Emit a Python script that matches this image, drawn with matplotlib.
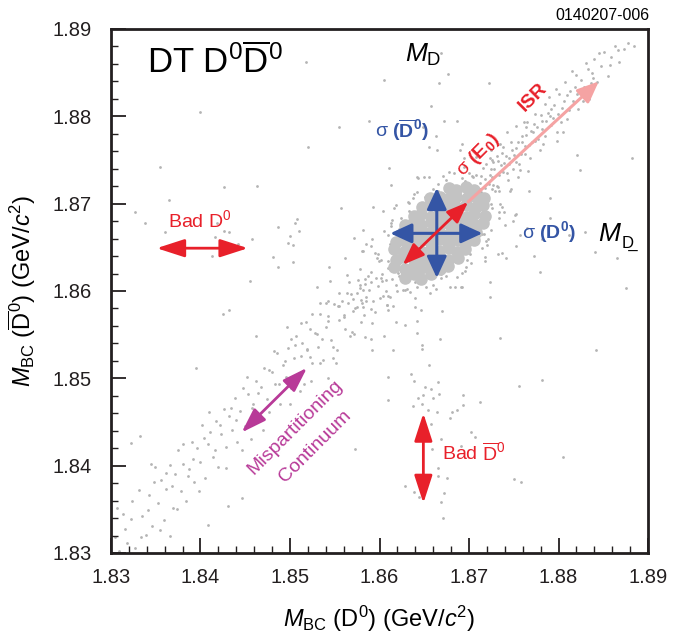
import numpy as np
import matplotlib
matplotlib.use("Agg")
import matplotlib.pyplot as plt
from matplotlib.ticker import MultipleLocator

plt.rcParams['font.family'] = ['Liberation Sans', 'DejaVu Sans']
plt.rcParams['mathtext.fontset'] = 'custom'
plt.rcParams['mathtext.rm'] = 'Liberation Sans'
plt.rcParams['mathtext.it'] = 'Liberation Sans:italic'
plt.rcParams['mathtext.bf'] = 'Liberation Sans:bold'

# M_BC(D0), M_BC(D0bar) in GeV/c^2
# dense signal core
core = [
    (1.8629, 1.8615), (1.8638, 1.8619), (1.8646, 1.8614), (1.8658, 1.8620),
    (1.8616, 1.8628), (1.8628, 1.8625), (1.8639, 1.8629), (1.8646, 1.8626), (1.8658, 1.8628), (1.8668, 1.8625), (1.8676, 1.8629),
    (1.8618, 1.8636), (1.8626, 1.8639), (1.8638, 1.8636), (1.8647, 1.8638), (1.8656, 1.8635), (1.8668, 1.8639), (1.8677, 1.8636), (1.8688, 1.8638),
    (1.8616, 1.8648), (1.8628, 1.8646), (1.8637, 1.8649), (1.8648, 1.8645), (1.8657, 1.8648), (1.8666, 1.8646), (1.8678, 1.8649), (1.8687, 1.8645), (1.8696, 1.8648),
    (1.8618, 1.8656), (1.8627, 1.8658), (1.8636, 1.8655), (1.8648, 1.8658), (1.8657, 1.8656), (1.8668, 1.8659), (1.8676, 1.8655), (1.8688, 1.8658), (1.8697, 1.8656), (1.8706, 1.8658),
    (1.8626, 1.8668), (1.8638, 1.8666), (1.8647, 1.8669), (1.8656, 1.8666), (1.8667, 1.8668), (1.8678, 1.8665), (1.8686, 1.8668), (1.8697, 1.8666), (1.8708, 1.8668),
    (1.8628, 1.8676), (1.8637, 1.8678), (1.8646, 1.8675), (1.8658, 1.8679), (1.8666, 1.8676), (1.8677, 1.8678), (1.8688, 1.8676), (1.8696, 1.8679), (1.8707, 1.8675), (1.8716, 1.8678),
    (1.8638, 1.8686), (1.8646, 1.8688), (1.8657, 1.8685), (1.8668, 1.8688), (1.8676, 1.8686), (1.8687, 1.8689), (1.8698, 1.8685), (1.8706, 1.8688), (1.8718, 1.8686),
    (1.8648, 1.8696), (1.8656, 1.8698), (1.8667, 1.8695), (1.8678, 1.8698), (1.8686, 1.8696), (1.8697, 1.8699), (1.8708, 1.8696), (1.8716, 1.8698),
    (1.8656, 1.8706), (1.8668, 1.8708), (1.8677, 1.8705), (1.8686, 1.8708), (1.8698, 1.8706), (1.8707, 1.8709), (1.8717, 1.8706),
    (1.8678, 1.8718), (1.8686, 1.8716), (1.8697, 1.8719), (1.8706, 1.8716),
]

# events crowding around the core
halo = [
    (1.8718, 1.8718), (1.8713, 1.8732), (1.8695, 1.8726), (1.8683, 1.8735), (1.8665, 1.8722), (1.8651, 1.8708),
    (1.8633, 1.8701), (1.8624, 1.8684), (1.8605, 1.8669), (1.8612, 1.8654), (1.8602, 1.8636), (1.8610, 1.8626),
    (1.8614, 1.8614), (1.8619, 1.8600), (1.8640, 1.8610), (1.8652, 1.8604), (1.8669, 1.8615), (1.8687, 1.8616),
    (1.8698, 1.8636), (1.8714, 1.8649), (1.8717, 1.8665), (1.8733, 1.8683), (1.8726, 1.8695), (1.8734, 1.8715),
    (1.8724, 1.8733), (1.8705, 1.8731), (1.8694, 1.8742), (1.8674, 1.8727), (1.8655, 1.8730), (1.8639, 1.8711),
    (1.8618, 1.8699), (1.8613, 1.8678), (1.8592, 1.8659), (1.8598, 1.8642), (1.8590, 1.8622), (1.8603, 1.8612),
    (1.8604, 1.8594), (1.8628, 1.8601), (1.8640, 1.8592), (1.8660, 1.8607), (1.8679, 1.8604), (1.8696, 1.8623),
    (1.8718, 1.8634), (1.8719, 1.8657), (1.8740, 1.8675), (1.8734, 1.8691), (1.8746, 1.8714), (1.8726, 1.8717),
    (1.8745, 1.8745), (1.8738, 1.8765), (1.8708, 1.8753), (1.8690, 1.8762), (1.8664, 1.8762), (1.8642, 1.8730),
    (1.8613, 1.8721), (1.8604, 1.8692), (1.8582, 1.8670), (1.8580, 1.8646), (1.8564, 1.8618), (1.8584, 1.8608),
    (1.8582, 1.8582), (1.8608, 1.8584), (1.8618, 1.8564), (1.8646, 1.8578), (1.8670, 1.8577), (1.8692, 1.8604),
    (1.8724, 1.8610), (1.8732, 1.8642), (1.8757, 1.8664), (1.8751, 1.8687), (1.8767, 1.8714), (1.8755, 1.8730),
    (1.8764, 1.8788), (1.8687, 1.8795), (1.8611, 1.8741), (1.8557, 1.8695), (1.8544, 1.8628), (1.8542, 1.8566),
    (1.8590, 1.8545), (1.8647, 1.8534), (1.8723, 1.8593), (1.8773, 1.8640), (1.8790, 1.8706), (1.8798, 1.8772),
    (1.8545, 1.8612), (1.8562, 1.8638), (1.8578, 1.8625), (1.8555, 1.8598), (1.8590, 1.8652), (1.8572, 1.8661),
    (1.8530, 1.8605), (1.8605, 1.8548), (1.8628, 1.8561), (1.8615, 1.8532), (1.8642, 1.8552), (1.8655, 1.8515),
    (1.8648, 1.8538), (1.8668, 1.8545), (1.8635, 1.8505),
    (1.8712, 1.8717), (1.8708, 1.8733), (1.8692, 1.8729), (1.8678, 1.8736), (1.8660, 1.8717), (1.8642, 1.8713),
    (1.8633, 1.8692), (1.8614, 1.8681), (1.8609, 1.8664), (1.8595, 1.8644), (1.8609, 1.8634), (1.8602, 1.8615),
    (1.8622, 1.8617), (1.8626, 1.8601), (1.8642, 1.8605), (1.8656, 1.8598), (1.8674, 1.8617), (1.8692, 1.8621),
    (1.8701, 1.8642), (1.8720, 1.8653), (1.8725, 1.8670), (1.8739, 1.8690), (1.8725, 1.8700), (1.8732, 1.8719),
    (1.8725, 1.8740), (1.8703, 1.8732), (1.8694, 1.8752), (1.8671, 1.8732), (1.8650, 1.8730), (1.8637, 1.8707),
    (1.8616, 1.8695), (1.8613, 1.8674), (1.8585, 1.8654), (1.8597, 1.8638), (1.8587, 1.8617), (1.8607, 1.8613),
    (1.8609, 1.8594), (1.8631, 1.8602), (1.8640, 1.8582), (1.8663, 1.8602), (1.8684, 1.8604), (1.8697, 1.8627),
    (1.8718, 1.8639), (1.8721, 1.8660), (1.8749, 1.8680), (1.8737, 1.8696), (1.8747, 1.8717), (1.8727, 1.8721),
    (1.8713, 1.8713), (1.8726, 1.8750), (1.8700, 1.8735), (1.8692, 1.8768), (1.8665, 1.8715), (1.8643, 1.8729),
    (1.8632, 1.8702), (1.8593, 1.8696), (1.8619, 1.8669), (1.8582, 1.8646), (1.8599, 1.8634), (1.8568, 1.8597),
    (1.8621, 1.8621), (1.8608, 1.8584), (1.8634, 1.8599), (1.8642, 1.8566), (1.8669, 1.8619), (1.8691, 1.8605),
    (1.8702, 1.8632), (1.8741, 1.8638), (1.8715, 1.8665), (1.8752, 1.8688), (1.8735, 1.8700), (1.8766, 1.8737),
    (1.8598, 1.8606), (1.8593, 1.8589), (1.8588, 1.8601), (1.8601, 1.8592), (1.8596, 1.8615), (1.8585, 1.8593),
    (1.8579, 1.8590), (1.8607, 1.8600), (1.8612, 1.8593), (1.8590, 1.8610), (1.8575, 1.8598), (1.8603, 1.8620),
    (1.8618, 1.8607), (1.8570, 1.8577), (1.8583, 1.8572), (1.8565, 1.8586), (1.8595, 1.8576), (1.8610, 1.8578),
    (1.8560, 1.8570), (1.8578, 1.8607),
]

# ISR tail toward high mass
isr = [
    (1.8716, 1.8741), (1.8720, 1.8709), (1.8723, 1.8752), (1.8726, 1.8731), (1.8729, 1.8714), (1.8732, 1.8749),
    (1.8735, 1.8768), (1.8738, 1.8736), (1.8741, 1.8755), (1.8744, 1.8727), (1.8747, 1.8771), (1.8750, 1.8756),
    (1.8753, 1.8789), (1.8756, 1.8745), (1.8759, 1.8778), (1.8762, 1.8766), (1.8765, 1.8793), (1.8768, 1.8752),
    (1.8771, 1.8782), (1.8774, 1.8803), (1.8777, 1.8774), (1.8780, 1.8801), (1.8783, 1.8768), (1.8786, 1.8795),
    (1.8789, 1.8822), (1.8792, 1.8790), (1.8795, 1.8813), (1.8798, 1.8782), (1.8801, 1.8826), (1.8804, 1.8810),
    (1.8807, 1.8839), (1.8810, 1.8797), (1.8813, 1.8829), (1.8816, 1.8818), (1.8819, 1.8847), (1.8822, 1.8808),
    (1.8825, 1.8842), (1.8828, 1.8833), (1.8831, 1.8861), (1.8834, 1.8820), (1.8837, 1.8850), (1.8840, 1.8866),
    (1.8843, 1.8839), (1.8847, 1.8858), (1.8851, 1.8874), (1.8855, 1.8846), (1.8859, 1.8868), (1.8863, 1.8881),
    (1.8868, 1.8862), (1.8873, 1.8877), (1.8878, 1.8884), (1.8884, 1.8880),
    (1.8718, 1.8728), (1.8725, 1.8761), (1.8731, 1.8720), (1.8737, 1.8758), (1.8743, 1.8782), (1.8749, 1.8740),
    (1.8755, 1.8771), (1.8761, 1.8794), (1.8767, 1.8767), (1.8773, 1.8791), (1.8779, 1.8762), (1.8785, 1.8814),
    (1.8791, 1.8800), (1.8797, 1.8831), (1.8803, 1.8793), (1.8809, 1.8824), (1.8815, 1.8852), (1.8821, 1.8826),
    (1.8827, 1.8818), (1.8833, 1.8854), (1.8839, 1.8844), (1.8845, 1.8873), (1.8857, 1.8859), (1.8866, 1.8876),
    (1.8712, 1.8724), (1.8714, 1.8703), (1.8719, 1.8745), (1.8722, 1.8722), (1.8728, 1.8740), (1.8733, 1.8733),
    (1.8739, 1.8747), (1.8745, 1.8752), (1.8752, 1.8764), (1.8758, 1.8757), (1.8764, 1.8779), (1.8770, 1.8771),
    (1.8776, 1.8788), (1.8782, 1.8785), (1.8788, 1.8804), (1.8794, 1.8798),
    (1.8742, 1.8735), (1.8748, 1.8762), (1.8753, 1.8748), (1.8736, 1.8744), (1.8759, 1.8771), (1.8763, 1.8757),
    (1.8731, 1.8755), (1.8769, 1.8783), (1.8757, 1.8739), (1.8774, 1.8772), (1.8781, 1.8795), (1.8727, 1.8748),
    (1.8785, 1.8778), (1.8792, 1.8808), (1.8799, 1.8803), (1.8806, 1.8817), (1.8812, 1.8807), (1.8818, 1.8834),
    (1.8826, 1.8828), (1.8836, 1.8838),
]

# mispartitioning continuum band along the diagonal
continuum = [
    (1.8304, 1.8318), (1.8309, 1.8302), (1.8313, 1.8345), (1.8318, 1.8311), (1.8322, 1.8339), (1.8327, 1.8306),
    (1.8331, 1.8372), (1.8335, 1.8342), (1.8339, 1.8321), (1.8342, 1.8366), (1.8346, 1.8331), (1.8349, 1.8398),
    (1.8353, 1.8357), (1.8356, 1.8384), (1.8359, 1.8338), (1.8362, 1.8373), (1.8366, 1.8401), (1.8369, 1.8352),
    (1.8372, 1.8390), (1.8375, 1.8418), (1.8378, 1.8371), (1.8381, 1.8402), (1.8384, 1.8359), (1.8387, 1.8396),
    (1.8390, 1.8427), (1.8393, 1.8381), (1.8396, 1.8420), (1.8399, 1.8404), (1.8402, 1.8446), (1.8405, 1.8386),
    (1.8408, 1.8425), (1.8411, 1.8439), (1.8414, 1.8410), (1.8417, 1.8451), (1.8420, 1.8398), (1.8423, 1.8436),
    (1.8426, 1.8465), (1.8429, 1.8421), (1.8432, 1.8457), (1.8435, 1.8441), (1.8438, 1.8478), (1.8441, 1.8427),
    (1.8444, 1.8463), (1.8447, 1.8489), (1.8450, 1.8445), (1.8453, 1.8482), (1.8456, 1.8430), (1.8459, 1.8471),
    (1.8462, 1.8497), (1.8465, 1.8458), (1.8468, 1.8490), (1.8471, 1.8512), (1.8474, 1.8476), (1.8477, 1.8461),
    (1.8480, 1.8507), (1.8483, 1.8494), (1.8486, 1.8529), (1.8489, 1.8471), (1.8492, 1.8515), (1.8495, 1.8502),
    (1.8498, 1.8535), (1.8501, 1.8489), (1.8504, 1.8523), (1.8507, 1.8549), (1.8510, 1.8506), (1.8513, 1.8541),
    (1.8516, 1.8494), (1.8519, 1.8533), (1.8522, 1.8557), (1.8525, 1.8517), (1.8528, 1.8552), (1.8531, 1.8536),
    (1.8534, 1.8574), (1.8537, 1.8521), (1.8540, 1.8559), (1.8543, 1.8571), (1.8546, 1.8544), (1.8549, 1.8585),
    (1.8552, 1.8532), (1.8555, 1.8567), (1.8558, 1.8589), (1.8561, 1.8557), (1.8564, 1.8598), (1.8567, 1.8548),
    (1.8570, 1.8591), (1.8573, 1.8580), (1.8576, 1.8613), (1.8579, 1.8565), (1.8582, 1.8601), (1.8585, 1.8588),
    (1.8307, 1.8352), (1.8316, 1.8327), (1.8324, 1.8360), (1.8333, 1.8318), (1.8341, 1.8349), (1.8348, 1.8381),
    (1.8355, 1.8326), (1.8361, 1.8392), (1.8368, 1.8377), (1.8374, 1.8350), (1.8380, 1.8425), (1.8386, 1.8388),
    (1.8392, 1.8408), (1.8398, 1.8371), (1.8404, 1.8432), (1.8410, 1.8462), (1.8416, 1.8418), (1.8422, 1.8447),
    (1.8428, 1.8397), (1.8434, 1.8466), (1.8440, 1.8452), (1.8446, 1.8418), (1.8452, 1.8501), (1.8458, 1.8466),
    (1.8464, 1.8483), (1.8470, 1.8441), (1.8476, 1.8509), (1.8482, 1.8531), (1.8488, 1.8493), (1.8494, 1.8520),
    (1.8500, 1.8471), (1.8506, 1.8538), (1.8512, 1.8525), (1.8518, 1.8564), (1.8524, 1.8497), (1.8530, 1.8551),
    (1.8536, 1.8545), (1.8542, 1.8588), (1.8548, 1.8523), (1.8554, 1.8583), (1.8560, 1.8572), (1.8566, 1.8610),
    (1.8572, 1.8551), (1.8578, 1.8603), (1.8584, 1.8614), (1.8590, 1.8579),
    (1.8425, 1.8574), (1.8432, 1.8578), (1.8322, 1.8426), (1.8332, 1.8434), (1.8345, 1.8402), (1.8609, 1.8501),
    (1.8573, 1.8419), (1.8446, 1.8363), (1.8431, 1.8354), (1.8408, 1.8332), (1.8366, 1.8320), (1.8497, 1.8559),
    (1.8501, 1.8545), (1.8512, 1.8563), (1.8525, 1.8574), (1.8534, 1.8586), (1.8540, 1.8586), (1.8555, 1.8583),
    (1.8575, 1.8582), (1.8580, 1.8586), (1.8615, 1.8583), (1.8592, 1.8563), (1.8584, 1.8547), (1.8592, 1.8532),
    (1.8569, 1.8553), (1.8548, 1.8536), (1.8551, 1.8517), (1.8534, 1.8517), (1.8543, 1.8500), (1.8519, 1.8532),
    (1.8522, 1.8524), (1.8506, 1.8495), (1.8511, 1.8486),
]

# one candidate good, the other bad: horizontal and vertical bands
bad_d0 = [
    (1.8327, 1.8690), (1.8338, 1.8678), (1.8360, 1.8667), (1.8365, 1.8704), (1.8413, 1.8640), (1.8416, 1.8662),
    (1.8418, 1.8678), (1.8426, 1.8669), (1.8432, 1.8667), (1.8426, 1.8719), (1.8463, 1.8720), (1.8442, 1.8654),
    (1.8458, 1.8660), (1.8481, 1.8639), (1.8487, 1.8627), (1.8487, 1.8673), (1.8498, 1.8655), (1.8500, 1.8663),
    (1.8503, 1.8633), (1.8503, 1.8653), (1.8506, 1.8678), (1.8508, 1.8682), (1.8510, 1.8669),
    (1.8765, 1.8672), (1.8781, 1.8659), (1.8798, 1.8671), (1.8812, 1.8664), (1.8752, 1.8651), (1.8790, 1.8683),
    (1.8830, 1.8668), (1.8841, 1.8645), (1.8865, 1.8638), (1.8821, 1.8756), (1.8824, 1.8738), (1.8805, 1.8782),
    (1.8779, 1.8622), (1.8737, 1.8643),
]
bad_d0bar = [
    (1.8639, 1.8497), (1.8651, 1.8490), (1.8658, 1.8488), (1.8665, 1.8496), (1.8666, 1.8482), (1.8643, 1.8478),
    (1.8649, 1.8481), (1.8660, 1.8477), (1.8637, 1.8468), (1.8647, 1.8471), (1.8654, 1.8464), (1.8664, 1.8461),
    (1.8693, 1.8481), (1.8693, 1.8469), (1.8681, 1.8461), (1.8687, 1.8464), (1.8679, 1.8455), (1.8712, 1.8473),
    (1.8756, 1.8491), (1.8658, 1.8448), (1.8702, 1.8438), (1.8707, 1.8433), (1.8669, 1.8430), (1.8691, 1.8422),
    (1.8659, 1.8419), (1.8665, 1.8397), (1.8665, 1.8388), (1.8675, 1.8386), (1.8628, 1.8377), (1.8639, 1.8370),
    (1.8644, 1.8364), (1.8672, 1.8369), (1.8669, 1.8358), (1.8671, 1.8340), (1.8750, 1.8385), (1.8758, 1.8381),
    (1.8805, 1.8410),
    (1.8669, 1.8873), (1.8667, 1.8838), (1.8658, 1.8812), (1.8672, 1.8795), (1.8663, 1.8778), (1.8676, 1.8848),
    (1.8655, 1.8765), (1.8649, 1.8788),
]
# sparse flat background
background = [
    (1.8399, 1.8805), (1.8518, 1.8862), (1.8555, 1.8788), (1.8735, 1.8546), (1.8842, 1.8532), (1.8355, 1.8742),
    (1.8455, 1.8612), (1.8588, 1.8795), (1.8781, 1.8498), (1.8882, 1.8752), (1.8875, 1.8603), (1.8520, 1.8765),
    (1.8462, 1.8548), (1.8395, 1.8512), (1.8610, 1.8475), (1.8722, 1.8838), (1.8605, 1.8842),
]

xticks = [1.83, 1.84, 1.85, 1.86, 1.87, 1.88, 1.89]

fig = plt.figure(figsize=(6.95, 6.37), dpi=100)
ax = fig.add_axes([0.1597, 0.1319, 0.7727, 0.8226])

dots = np.array(halo + isr + continuum + bad_d0 + bad_d0bar + background)
ax.scatter(dots[:, 0], dots[:, 1], s=4, color='#b4b4b4', linewidths=0, zorder=1)
c = np.array(core)
ax.scatter(c[:, 0], c[:, 1], s=82, color='#c3c3c3', linewidths=0, zorder=1)

ax.set_xlim(1.83, 1.89)
ax.set_ylim(1.83, 1.89)
ax.set_xticks(xticks)
ax.set_yticks(xticks)
ax.set_xticklabels([f'{t:.2f}' for t in xticks])
ax.set_yticklabels([f'{t:.2f}' for t in xticks])
ax.xaxis.set_minor_locator(MultipleLocator(0.002))
ax.yaxis.set_minor_locator(MultipleLocator(0.002))
ax.tick_params(which='both', direction='in', top=False, right=False, colors='#231f20')
ax.tick_params(which='major', length=11, width=1.3, labelsize=14.5)
ax.tick_params(axis='x', which='major', pad=11)
ax.tick_params(axis='y', which='major', pad=14)
ax.tick_params(which='minor', length=5, width=1.0)
for sp in ax.spines.values():
    sp.set_linewidth(2.0)
    sp.set_color('#231f20')

ax.set_xlabel(r'$M_{\mathrm{BC}}$ (D$^0$) (GeV/$c^2$)', fontsize=17, labelpad=12)
ax.set_ylabel(r'$M_{\mathrm{BC}}$ ($\overline{\mathrm{D}}^0$) (GeV/$c^2$)', fontsize=17, labelpad=10)

# arrows
red = '#e8202a'
blue = '#3455a5'
mag = '#b83a98'
pink = '#f5a3a3'


def arrow(p0, p1, color, lw, style, scale):
    ax.annotate('', xy=p1, xytext=p0,
                arrowprops=dict(arrowstyle=style, color=color, lw=lw,
                                shrinkA=0, shrinkB=0, mutation_scale=scale),
                zorder=3)


arrow((1.8699, 1.8702), (1.8845, 1.8840), pink, 2.2, '-|>,head_length=1.3,head_width=0.55', 10)
arrow((1.8612, 1.8666), (1.8715, 1.8666), blue, 2.2, '<|-|>,head_length=1.3,head_width=0.6', 10)
arrow((1.8664, 1.8615), (1.8664, 1.8718), blue, 2.2, '<|-|>,head_length=1.3,head_width=0.6', 10)
arrow((1.8626, 1.8630), (1.8699, 1.8702), red, 2.0, '<|-|>,head_length=1.3,head_width=0.5', 10)
arrow((1.8351, 1.8649), (1.8453, 1.8649), red, 2.0, '<|-|>,head_length=1.7,head_width=0.55', 10)
arrow((1.8649, 1.8460), (1.8649, 1.8357), red, 2.0, '<|-|>,head_length=1.7,head_width=0.55', 10)
arrow((1.8446, 1.8438), (1.8519, 1.8512), mag, 2.0, '<|-|>,head_length=1.5,head_width=0.5', 10)

# labels
ax.text(0.067, 0.937, r'DT D$^0\overline{\mathrm{D}}^0$', transform=ax.transAxes,
        fontsize=25, va='center', ha='left')
ax.text(1.8628, 1.8870, r'$M_{\mathrm{D}}$', fontsize=19, va='center', ha='left')
ax.text(1.8844, 1.8665, r'$M$', fontsize=19, va='center', ha='left')
ax.text(1.8870, 1.8655, 'D\u0332', fontsize=12, va='center', ha='left')
ax.text(1.8595, 1.8784, r'σ $\mathbf{(\overline{D}^0)}$', color=blue, fontsize=14,
        va='center', ha='left')
ax.text(1.8759, 1.8667, r'σ $\mathbf{(D^0)}$', color=blue, fontsize=14,
        va='center', ha='left')
ax.text(1.8710, 1.8756, r'σ $\mathbf{(E_0)}$', color=red, fontsize=14, rotation=45,
        rotation_mode='anchor', va='center', ha='center')
ax.text(1.8772, 1.8822, 'ISR', color=red, fontsize=14, fontweight='bold', rotation=45,
        rotation_mode='anchor', va='center', ha='center')
ax.text(1.8399, 1.8681, r'Bad D$^0$', color=red, fontsize=14, va='center', ha='center')
ax.text(1.8670, 1.8414, r'Bad $\overline{\mathrm{D}}^0$', color=red, fontsize=14,
        va='center', ha='left')
ax.text(1.8506, 1.8444, 'Mispartitioning', color=mag, fontsize=14, rotation=45,
        rotation_mode='anchor', va='center', ha='center')
ax.text(1.8528, 1.8422, 'Continuum', color=mag, fontsize=14, rotation=45,
        rotation_mode='anchor', va='center', ha='center')

fig.text(0.934, 0.976, '0140207-006', fontsize=11.5, ha='right', va='center')

fig.savefig('out.png', dpi=100)
